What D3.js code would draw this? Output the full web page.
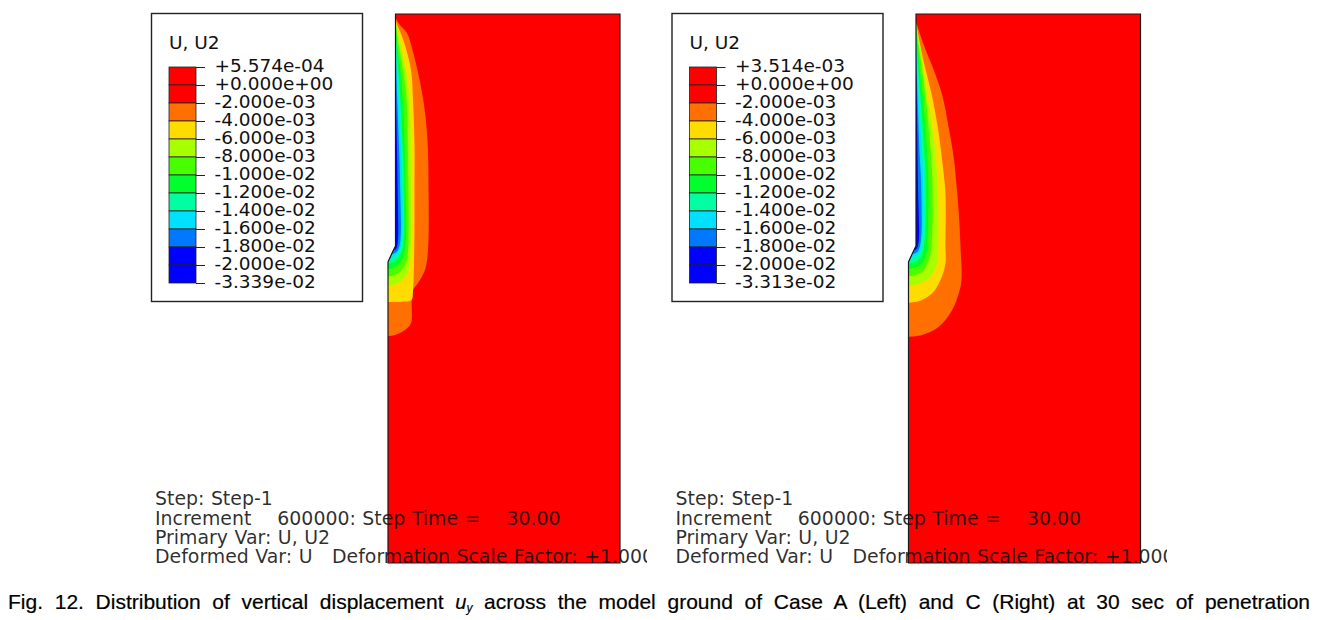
<!DOCTYPE html>
<html>
<head>
<meta charset="utf-8">
<script src="https://cdn.jsdelivr.net/npm/d3@7"></script>
<style>
html, body { margin: 0; padding: 0; background: #fff; overflow: hidden; }
svg { display: block; }
.abq { font-family: "DejaVu Sans", sans-serif; font-size: 18.5px; fill: #111; white-space: pre; }
.step { font-family: "DejaVu Sans", sans-serif; font-size: 18.9px; fill: #111; fill-opacity: 0.88; word-spacing: 0.5px; white-space: pre; }
.caption { font-family: "Liberation Sans", Arial, sans-serif; font-size: 21px; fill: #000; stroke: #000; stroke-width: 0.2px; white-space: pre; }
</style>
</head>
<body>
<svg width="1328" height="620"></svg>
<script>
const bandColors = ["#ff0000", "#ff0000", "#ff7000", "#ffdc00", "#a8ff00", "#48ff00", "#00ff2c", "#00ffa0", "#00e0ff", "#0078ff", "#0000ff", "#0000ff"];

const labelsA = ["+5.574e-04", "+0.000e+00", "-2.000e-03", "-4.000e-03", "-6.000e-03", "-8.000e-03", "-1.000e-02", "-1.200e-02", "-1.400e-02", "-1.600e-02", "-1.800e-02", "-2.000e-02", "-3.339e-02"];
const labelsC = ["+3.514e-03", "+0.000e+00", "-2.000e-03", "-4.000e-03", "-6.000e-03", "-8.000e-03", "-1.000e-02", "-1.200e-02", "-1.400e-02", "-1.600e-02", "-1.800e-02", "-2.000e-02", "-3.313e-02"];

const stepLines = ["Step: Step-1", "Increment    600000: Step Time =    30.00", "Primary Var: U, U2", "Deformed Var: U   Deformation Scale Factor: +1.000e+00"];
const captionWords = ["Fig.", "12.", "Distribution", "of", "vertical", "displacement"];
const captionRest = ["across", "the", "model", "ground", "of", "Case", "A", "(Left)", "and", "C", "(Right)", "at", "30", "sec", "of", "penetration"];

// model outline, [distance from outer edge, depth]
const outline = [[7.5, 0], [232, 0], [232, 549], [0, 549], [0, 248], [5, 237], [7.5, 232]];

// contour lines, outermost band first
const contoursA = [
    [[7.5, 4], [12, 11], [19, 19], [25, 38], [32, 68], [37, 98], [39.7, 131], [40.5, 171], [40, 236], [37, 256], [30, 269], [25, 276], [23.7, 286], [23, 309], [17, 316], [7, 321], [0, 322]],
    [[7.5, 5], [9, 10], [16, 28], [23, 56], [25, 86], [26.5, 130], [26.5, 171], [26.3, 233], [25, 276], [23.5, 286], [14, 287.7], [0, 288]],
    [[7.5, 6], [8, 10], [13.7, 35], [19, 62], [22, 96], [23, 166], [23, 233], [22, 249], [18.7, 261], [10.3, 269], [0, 272]],
    [[7.5, 7], [11.3, 35], [16, 62], [18.7, 87], [20.3, 166], [20.3, 233], [18.7, 246], [15.3, 254], [7, 261], [0, 262.7]],
    [[7.5, 8], [9.5, 35], [13, 62], [15.5, 100], [17.5, 166], [17.3, 233], [13.7, 246], [7, 253], [0, 255.3]],
    [[7.5, 12], [9, 40], [11.5, 72], [13.5, 110], [15.5, 166], [15.3, 229], [12, 241], [6.3, 247.7], [0, 249]],
    [[7.5, 20], [9, 60], [11.5, 100], [14, 166], [13.5, 229], [10, 239], [4, 244]],
    [[7.5, 30], [9, 80], [10.5, 120], [12, 166], [12, 229], [8.7, 237.7], [4, 240]],
    [[7.5, 40], [8.3, 100], [9.5, 166], [9.7, 229], [8, 235], [6, 236]]
];

const contoursC = [
    [[7.7, 8], [15.3, 31], [25.3, 56], [33.7, 81], [40.3, 114], [45.3, 144], [48, 171], [50.3, 199.3], [52, 232.7], [53, 266], [50.3, 279.3], [43.7, 296], [30.3, 312.7], [13.7, 321], [0, 322.7]],
    [[7.7, 10], [15.3, 48], [23.3, 81], [30, 118], [35, 158], [37, 180], [37, 232.7], [37, 249.3], [32, 266], [23.7, 279.3], [12, 286.7], [0, 288.7]],
    [[7.7, 12], [12, 34], [18.7, 81], [25.3, 124], [29.3, 171], [29.7, 232.7], [28.7, 249.3], [22, 262.7], [12, 269.3], [0, 272]],
    [[7.7, 14], [15.3, 68], [20.3, 114], [24, 171], [23, 232.7], [20.3, 246], [15.3, 256], [7, 261], [0, 262]],
    [[7.7, 18], [12.7, 68], [17, 114], [20, 171], [18.7, 232.7], [17, 242.7], [12, 251], [0, 255.3]],
    [[7.7, 24], [11.3, 74], [14.7, 124], [17.3, 171], [15.3, 232.7], [12, 242.7], [7, 247.7], [0, 249.3]],
    [[7.7, 30], [10.3, 84], [12.7, 124], [14.7, 171], [13, 231], [9.7, 240], [3.7, 243.3]],
    [[7.7, 40], [9.3, 91], [11, 138], [12.7, 171], [12, 229], [8.7, 238], [4, 240]],
    [[7.7, 60], [8.5, 100], [9.5, 171], [10, 229], [8, 235], [6, 236]]
];

const svg = d3.select("svg");

function drawPanel(id, offset, labels, contours, textClipRight) 
{
    const g = svg.append("g").attr("class", id);

    const x = d3.scaleLinear().domain([0, 232]).range([388 + offset, 620 + offset]);
    const y = d3.scaleLinear().domain([0, 549]).range([14, 563]);

    const outlinePath = d3.line().x(d => x(d[0])).y(d => y(d[1])).curve(d3.curveLinearClosed);
    const contourPath = d3.line().x(d => x(d[0])).y(d => y(d[1])).curve(d3.curveCatmullRom.alpha(0.5));

    g.append("clipPath").attr("id", id + "-model").append("path").attr("d", outlinePath(outline));

    g.append("path").attr("d", outlinePath(outline)).attr("fill", bandColors[0]);

    const bands = g.append("g").attr("clip-path", `url(#${id}-model)`);
    contours.forEach((c, i) => 
    {
        // close the band behind the wall, the clip cuts it back to the model
        const first = c[0];
        const last = c[c.length - 1];
        const d = contourPath(c) + `L${x(-5)},${y(last[1])}L${x(-5)},${y(first[1])}Z`;
        bands.append("path").attr("d", d).attr("fill", bandColors[i + 2]);
    });

    g.append("path")
        .attr("d", outlinePath(outline))
        .attr("fill", "none")
        .attr("stroke", "#1a1a1a")
        .attr("stroke-width", 1.2);

    // legend
    g.append("rect")
        .attr("x", 151.5 + offset).attr("y", 13.5)
        .attr("width", 211).attr("height", 288)
        .attr("fill", "#fff")
        .attr("stroke", "#222")
        .attr("stroke-width", 1.4);

    g.append("text").attr("class", "abq")
        .attr("x", 169 + offset).attr("y", 49)
        .text("U, U2");

    const legendY = d3.scaleLinear().domain([0, 12]).range([67, 283]);

    g.selectAll("rect.band")
        .data(bandColors)
        .join("rect")
        .attr("class", "band")
        .attr("x", 169 + offset)
        .attr("y", (d, i) => legendY(i))
        .attr("width", 27)
        .attr("height", legendY(1) - legendY(0))
        .attr("fill", d => d)
        .attr("stroke", "#222")
        .attr("stroke-width", 0.8);

    const legendAxis = d3.axisRight(legendY)
        .tickValues(d3.range(13))
        .tickFormat(i => labels[i])
        .tickSize(9)
        .tickPadding(9.5);

    const ax = g.append("g")
        .attr("transform", `translate(${196 + offset},0)`)
        .call(legendAxis);
    ax.select(".domain").remove();
    ax.selectAll("line").attr("stroke", "#222");
    ax.selectAll("text").attr("class", "abq").attr("dy", "0.24em");

    // step text runs over the model and is cut off at the old viewport edge
    g.append("clipPath").attr("id", id + "-text")
        .append("rect").attr("x", 0).attr("y", 480).attr("width", textClipRight).attr("height", 100);

    const lineY = [505, 525, 544, 563];
    g.append("g").attr("clip-path", `url(#${id}-text)`)
        .selectAll("text")
        .data(stepLines)
        .join("text")
        .attr("class", "step")
        .attr("x", 155 + offset)
        .attr("y", (d, i) => lineY[i])
        .text(d => d);
}

drawPanel("caseA", 0, labelsA, contoursA, 647);
drawPanel("caseC", 520.5, labelsC, contoursC, 1167);

// caption, justified by hand between the page margins
const caption = svg.append("text")
    .attr("class", "caption")
    .attr("x", 8)
    .attr("y", 609);

caption.append("tspan").text(captionWords.join(" ") + " ");
caption.append("tspan").attr("font-style", "italic").attr("font-size", 20).text("u");
caption.append("tspan").attr("font-style", "italic").attr("font-size", 12).attr("dy", 3).text("y");
caption.append("tspan").attr("dy", -3).text(" " + captionRest.join(" "));

const wordCount = captionWords.length + captionRest.length;
const plainLength = caption.node().getComputedTextLength();
caption.style("word-spacing", ((1310 - 8 - plainLength) / wordCount) + "px");
</script>
</body>
</html>
